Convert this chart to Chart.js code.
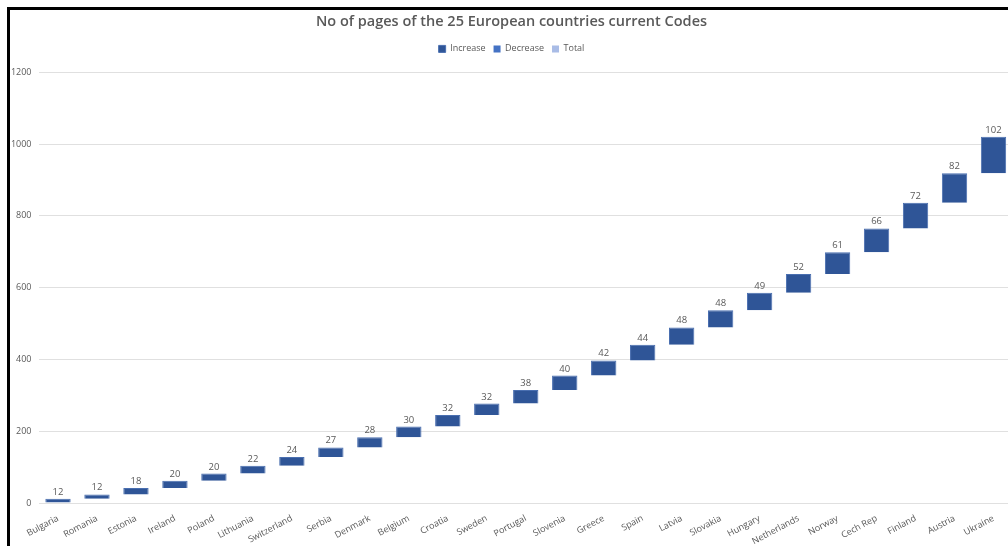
<!DOCTYPE html>
<html>
<head>
<meta charset="utf-8">
<script src="https://cdn.jsdelivr.net/npm/chart.js@4.4.0/dist/chart.umd.min.js"></script>
<style>
  html, body { margin: 0; padding: 0; background: #fff; overflow: hidden; width: 1008px; height: 546px; position: relative; }
  #lineTop { position: absolute; left: 7px; top: 7px; width: 1001px; height: 3px; background: #000; }
  #lineLeft { position: absolute; left: 7px; top: 7px; width: 3px; height: 539px; background: #000; }
  #wrap { position: absolute; left: 10px; top: 10px; width: 1003px; height: 536px; }
</style>
</head>
<body>
<div id="lineTop"></div>
<div id="lineLeft"></div>
<div id="wrap"><canvas id="chart"></canvas></div>
<script>
// countries, sorted by code length
const categories = ['Bulgaria', 'Romania', 'Estonia', 'Ireland', 'Poland', 'Lithuania', 'Switzerland',
  'Serbia', 'Denmark', 'Belgium', 'Croatia', 'Sweden', 'Portugal', 'Slovenia', 'Greece', 'Spain',
  'Latvia', 'Slovakia', 'Hungary', 'Netherlands', 'Norway', 'Cech Rep', 'Finland', 'Austria', 'Ukraine'];
const pages = [12, 12, 18, 20, 20, 22, 24, 27, 28, 30, 32, 32, 38, 40, 42, 44, 48, 48, 49, 52, 61, 66, 72, 82, 102];
const legendNames = ['Increase', 'Decrease', 'Total'];
const legendColors = ['#2F5597', '#4472C4', '#A9BCE6'];

// waterfall: each bar floats from running total to running total + value
const ranges = [];
let total = 0;
pages.forEach(v => { ranges.push([total, total + v]); total += v; });

const valueLabels = {
  id: 'valueLabels',
  afterDatasetsDraw(chart) {
    const ctx = chart.ctx;
    const meta = chart.getDatasetMeta(0);
    ctx.save();
    ctx.font = '9.5px "Open Sans"';
    ctx.fillStyle = '#595959';
    ctx.textAlign = 'center';
    ctx.textBaseline = 'bottom';
    meta.data.forEach((bar, i) => {
      ctx.fillText(pages[i], bar.x, Math.min(bar.y, bar.base) - 2);
    });
    ctx.restore();
  }
};

const chart = new Chart(document.getElementById('chart'), {
  type: 'bar',
  data: {
    labels: categories,
    datasets: [
      { label: legendNames[0], data: ranges, backgroundColor: legendColors[0], borderColor: '#4A6FB0', borderWidth: 1, grouped: false, barPercentage: 0.65, categoryPercentage: 1 },
      { label: legendNames[1], data: [], backgroundColor: legendColors[1], grouped: false },
      { label: legendNames[2], data: [], backgroundColor: legendColors[2], grouped: false }
    ]
  },
  options: {
    responsive: true,
    maintainAspectRatio: false,
    animation: false,
    layout: { padding: 0 },
    plugins: {
      title: {
        display: true,
        text: 'No of pages of the 25 European countries current Codes',
        color: '#595959',
        font: { family: 'Open Sans', size: 14.5, weight: '600' },
        padding: { top: 3, bottom: 6 }
      },
      legend: {
        display: true,
        labels: { boxWidth: 7, boxHeight: 7, color: '#595959', padding: 8, font: { family: 'Open Sans', size: 9 } }
      },
      tooltip: { enabled: false }
    },
    scales: {
      x: {
        grid: { display: false },
        border: { display: false },
        ticks: { color: '#595959', font: { family: 'Open Sans', size: 9 }, minRotation: 28, maxRotation: 28, autoSkip: false, padding: 2 },
        afterFit(s) { s.height = 43; }
      },
      y: {
        min: 0, max: 1200,
        grid: { color: '#E0E0E0', drawTicks: false },
        border: { display: false },
        ticks: { stepSize: 200, color: '#595959', font: { family: 'Open Sans', size: 9 }, padding: 7, callback: v => String(v) },
        afterFit(s) { s.width = 28.5; }
      }
    }
  },
  plugins: [valueLabels]
});

// leave a gap between the legend and the plot area
const legendFit = chart.legend.fit;
chart.legend.fit = function () { legendFit.call(this); this.height += 9; };
chart.update();
</script>
</body>
</html>
